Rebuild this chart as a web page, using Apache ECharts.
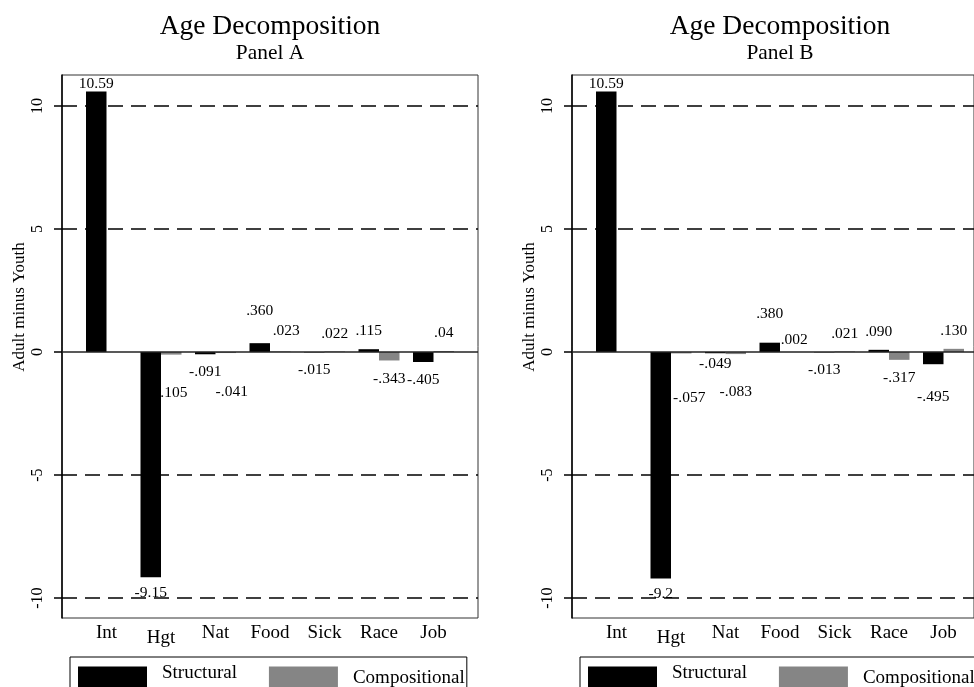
<!DOCTYPE html>
<html>
<head>
<meta charset="utf-8">
<script src="https://cdn.jsdelivr.net/npm/echarts@6/dist/echarts.min.js"></script>
<style>
  html, body { margin: 0; padding: 0; background: #fff; }
  #chart { width: 974px; height: 687px; }
</style>
</head>
<body>
<div id="chart"></div>
<script>
// Decomposition components, written the way they are printed on the bars
const categories = ['Int', 'Hgt', 'Nat', 'Food', 'Sick', 'Race', 'Job'];
const structuralA = ['10.59', '-9.15', '-.091', '.360', '-.015', '.115', '-.405'];
const compositionalA = [null, '-.105', '-.041', '.023', '.022', '-.343', '.04'];
const structuralB = ['10.59', '-9.2', '-.049', '.380', '-.013', '.090', '-.495'];
const compositionalB = [null, '-.057', '-.083', '.002', '.021', '-.317', '.130'];
const yTicks = [-10, -5, 0, 5, 10];
const dashedLevels = [-10, -5, 5, 10];
const seriesNames = ['Structural', 'Compositional'];
const panelTitles = ['Panel A', 'Panel B'];

// Hand placement of a few bar labels so they do not collide: [dx, dy] in px
const labelNudge = {
  'Panel A': {
    Structural: { Int: [0, 10], Hgt: [0, -2], Food: [0, -14] },
    Compositional: { Hgt: [0, 20], Nat: [6, 21], Food: [6, -3] }
  },
  'Panel B': {
    Structural: { Int: [0, 10], Hgt: [0, -2], Nat: [0, -7], Food: [0, -11], Job: [0, 15] },
    Compositional: { Hgt: [8, 26], Nat: [0, 20], Food: [4, 6] }
  }
};

const FONT = '"Liberation Serif", "Times New Roman", Times, serif';
const Y_MIN = -10.81, Y_MAX = 11.26;
const PANEL_SHIFT = 510;
const FRAME = { left: 62, top: 75, width: 416, height: 543 };
const BARS_LEFT = 79.25, BARS_WIDTH = 381.5;

const panelData = [
  [structuralA, compositionalA],
  [structuralB, compositionalB]
];

// Words with descenders sit a little lower, as in the original figure
const hasDescender = s => /[gjpqy]/.test(s);

const grids = [], xAxes = [], yAxes = [], series = [], legends = [], graphics = [];

panelTitles.forEach((panel, p) => {
  const off = p * PANEL_SHIFT;
  const fi = p * 2, bi = p * 2 + 1;

  // outer frame grid: box, y axis, reference lines
  grids.push({
    left: FRAME.left + off, top: FRAME.top, width: FRAME.width, height: FRAME.height,
    show: true, borderColor: '#333', borderWidth: 1, backgroundColor: 'transparent'
  });
  // bar grid: narrower band holding the category groups
  grids.push({
    left: BARS_LEFT + off, top: FRAME.top, width: BARS_WIDTH, height: FRAME.height
  });

  xAxes.push({ type: 'value', gridIndex: fi, min: 0, max: 1, show: false });
  xAxes.push({
    type: 'category', gridIndex: bi, data: categories,
    axisLine: { show: false }, axisTick: { show: false },
    axisLabel: {
      interval: 0, hideOverlap: false,
      fontSize: 19, fontFamily: FONT, color: '#000', margin: 6,
      formatter: v => hasDescender(v) ? '{low|' + v + '}' : v,
      rich: { low: { fontSize: 19, fontFamily: FONT, color: '#000', padding: [5, 0, 0, 0] } }
    }
  });

  yAxes.push({
    type: 'value', gridIndex: fi, min: Y_MIN, max: Y_MAX,
    axisLine: { show: true, onZero: false, lineStyle: { color: '#000', width: 1.5 } },
    axisTick: { show: true, length: 8, customValues: yTicks, lineStyle: { color: '#000', width: 1.5 } },
    axisLabel: {
      customValues: yTicks, rotate: 90, margin: 16,
      fontSize: 16, fontFamily: FONT, color: '#000',
      formatter: v => String(v)
    },
    splitLine: { show: false }
  });
  yAxes.push({ type: 'value', gridIndex: bi, min: Y_MIN, max: Y_MAX, show: false, splitLine: { show: false } });

  // reference lines across the whole frame
  series.push({
    type: 'line', xAxisIndex: fi, yAxisIndex: fi, data: [], silent: true,
    markLine: {
      symbol: 'none', silent: true, animation: false, label: { show: false },
      data: dashedLevels.map(v => ({ yAxis: v, lineStyle: { type: [15, 8], width: 1.6, color: '#000' } }))
        .concat([{ yAxis: 0, lineStyle: { type: 'solid', width: 1.5, color: '#222' } }])
    }
  });

  seriesNames.forEach((name, s) => {
    const values = panelData[p][s];
    const nudges = labelNudge[panel][name];
    series.push({
      name: name, type: 'bar', xAxisIndex: bi, yAxisIndex: bi,
      barWidth: 20.5, barGap: '0%',
      itemStyle: { color: s === 0 ? '#000' : '#858585' },
      label: { show: true, fontSize: 15.5, fontFamily: FONT, color: '#000', distance: 10 },
      data: values.map((txt, i) => {
        if (txt === null) return '-';
        const v = Number(txt);
        return {
          value: v,
          label: {
            show: true,
            position: v >= 0 ? 'top' : 'bottom',
            offset: nudges[categories[i]] || [0, 0],
            formatter: txt
          }
        };
      })
    });
  });

  legends.push({
    left: 70 + off, top: 657, width: 420, orient: 'horizontal',
    borderColor: '#000', borderWidth: 1, padding: [7, 2, 9, 8],
    itemWidth: 69, itemHeight: 24, itemGap: 32, icon: 'rect', selectedMode: false,
    textStyle: {
      fontSize: 19, fontFamily: FONT, color: '#000', padding: [0, 0, 0, 10],
      rich: {
        hi: { fontSize: 19, fontFamily: FONT, color: '#000', padding: [0, 0, 10, 0] },
        low: { fontSize: 19, fontFamily: FONT, color: '#000', padding: [0, 0, 0, 0] }
      }
    },
    formatter: n => hasDescender(n) ? '{low|' + n + '}' : '{hi|' + n + '}',
    data: seriesNames
  });

  const cx = FRAME.left + FRAME.width / 2 + off;
  graphics.push(
    { type: 'text', x: cx, y: 26.7, silent: true,
      style: { text: 'Age Decomposition', fontSize: 27.5, fontFamily: FONT, fill: '#000', align: 'center', verticalAlign: 'middle' } },
    { type: 'text', x: cx, y: 53.8, silent: true,
      style: { text: panel, fontSize: 21.4, fontFamily: FONT, fill: '#000', align: 'center', verticalAlign: 'middle' } },
    { type: 'text', x: 20 + off, y: 307, rotation: Math.PI / 2, silent: true,
      style: { text: 'Adult minus Youth', fontSize: 17, fontFamily: FONT, fill: '#000', align: 'center', verticalAlign: 'middle' } }
  );
});

const chart = echarts.init(document.getElementById('chart'), null, { renderer: 'canvas' });
chart.setOption({
  animation: false,
  backgroundColor: '#fff',
  grid: grids,
  xAxis: xAxes,
  yAxis: yAxes,
  legend: legends,
  graphic: graphics,
  series: series
});
</script>
</body>
</html>
